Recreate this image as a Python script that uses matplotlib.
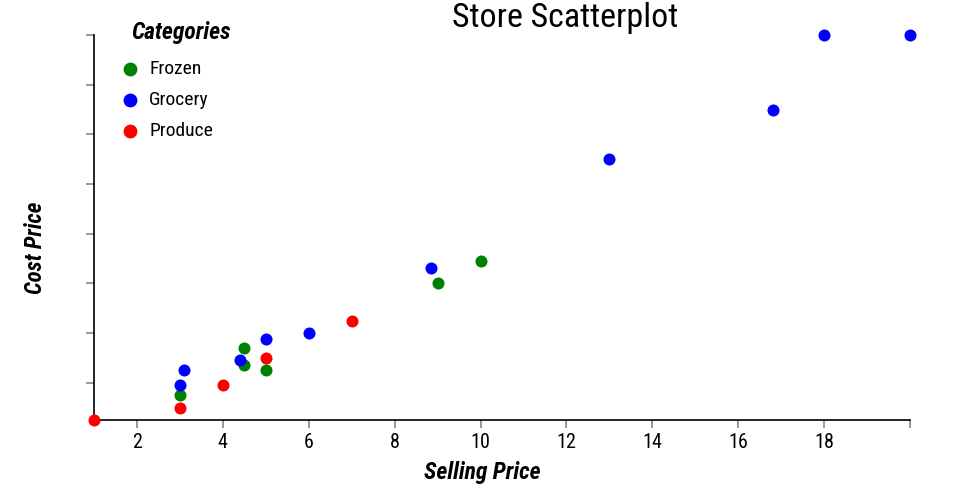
import matplotlib
matplotlib.use('Agg')
import matplotlib.pyplot as plt
from matplotlib import font_manager

# pick a narrow font if one is installed
names = {f.name for f in font_manager.fontManager.ttflist}
font = 'DejaVu Sans'
for cand in ['Roboto Condensed', 'Liberation Sans Narrow', 'Open Sans Condensed', 'DejaVu Sans Condensed']:
    if cand in names:
        font = cand
        break
plt.rcParams['font.family'] = [font, 'DejaVu Sans']

categories = ['Frozen', 'Grocery', 'Produce']
colors = ['green', 'blue', 'red']

frozen_sell = [3, 4.5, 4.5, 5, 9, 10]
frozen_cost = [1.5, 3.4, 2.7, 2.5, 6.0, 6.9]

grocery_sell = [3, 3.1, 4.4, 5, 6, 8.84, 13, 16.8, 18, 20]
grocery_cost = [1.9, 2.5, 2.9, 3.75, 4.0, 6.6, 11.0, 13.0, 16, 16]

produce_sell = [1, 3, 4, 5, 7]
produce_cost = [0.5, 1.0, 1.9, 3.0, 4.5]

x_ticks = [2, 4, 6, 8, 10, 12, 14, 16, 18, 20]
x_labels = ['2', '4', '6', '8', '10', '12', '14', '16', '18', '']
y_ticks = [2, 4, 6, 8, 10, 12, 14, 16]

fig = plt.figure(figsize=(9.6, 5), dpi=100)
ax = fig.add_axes([94/960, 80/500, 816/960, 385/500])

series = [(frozen_sell, frozen_cost), (grocery_sell, grocery_cost), (produce_sell, produce_cost)]
for (xs, ys), name, c in zip(series, categories, colors):
    ax.scatter(xs, ys, s=75, color=c, label=name, clip_on=False, zorder=3, linewidths=0)

ax.set_xlim(1, 20)
ax.set_ylim(0.5, 16)
ax.set_xticks(x_ticks)
ax.set_xticklabels(x_labels, fontsize=14.5)
ax.set_yticks(y_ticks)
ax.set_yticklabels([])
ax.tick_params(axis='both', color='#888888', length=6, width=1.2)
for s in ['top', 'right']:
    ax.spines[s].set_visible(False)
for s in ['left', 'bottom']:
    ax.spines[s].set_color('black')
    ax.spines[s].set_linewidth(1.2)

fig.text(565/960, 1 - 18/500, 'Store Scatterplot', fontsize=24.5, ha='center', va='center')
fig.text(482/960, 1 - 472/500, 'Selling Price', fontsize=17, fontweight='bold', style='italic',
         ha='center', va='center')
fig.text(35/960, 1 - 248/500, 'Cost Price', fontsize=16.5, fontweight='bold', style='italic',
         ha='center', va='center', rotation=90)

# legend title drawn separately so the gap to the entries matches
fig.text(131/960, 1 - 32/500, 'Categories', fontsize=17, fontweight='bold', style='italic',
         ha='left', va='center')
leg = ax.legend(loc='upper left', bbox_to_anchor=(121/960, 1 - 52/500), bbox_transform=fig.transFigure,
                frameon=False, fontsize=14, markerscale=1.15,
                handlelength=0.1, handletextpad=0.95, labelspacing=0.67, borderaxespad=0)

fig.savefig('out.png', dpi=100)
